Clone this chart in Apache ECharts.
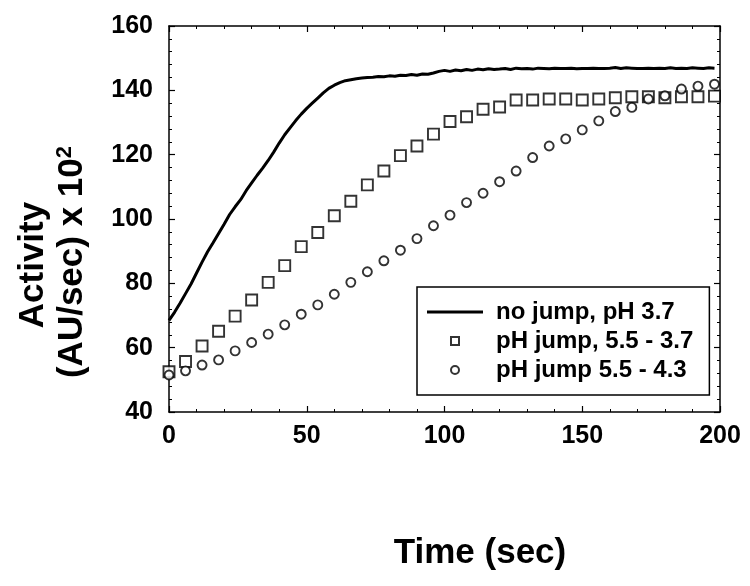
<!DOCTYPE html>
<html>
<head>
<meta charset="utf-8">
<script src="https://cdn.jsdelivr.net/npm/echarts@6/dist/echarts.min.js"></script>
<style>
html,body{margin:0;padding:0;background:#fff;}
#chart{width:750px;height:586px;}
</style>
</head>
<body>
<div id="chart"></div>
<script>
// ---- data ----
var seriesNames = ['no jump, pH 3.7', 'pH jump, 5.5 - 3.7', 'pH jump 5.5 - 4.3'];

var lineTimes = [0,2,4,6,8,10,12,14,16,18,20,22,24,26,28,30,32,34,36,38,40,42,44,46,48,50,52,54,56,58,60,62,64,66,68,70,72,74,76,78,80,82,84,86,88,90,92,94,96,98,100,102,104,106,108,110,112,114,116,118,120,122,124,126,128,130,132,134,136,138,140,142,144,146,148,150,152,154,156,158,160,162,164,166,168,170,172,174,176,178,180,182,184,186,188,190,192,194,196,198];
var lineValues = [68.5,71.0,73.8,76.8,79.8,83.2,86.6,89.8,92.6,95.5,98.4,101.4,103.8,106.0,108.8,111.2,113.6,115.8,118.2,120.8,123.6,126.2,128.4,130.6,132.6,134.4,136.0,137.6,139.2,140.6,141.6,142.4,143.0,143.3,143.6,143.8,144.0,144.1,144.3,144.2,144.5,144.4,144.7,144.6,144.9,144.7,145.1,145.0,145.4,145.9,146.2,145.9,146.3,146.1,146.5,146.2,146.6,146.4,146.7,146.5,146.6,146.8,146.5,146.9,146.7,146.8,146.6,146.9,146.8,146.7,146.9,146.8,146.8,146.9,146.7,146.8,146.8,146.9,146.8,146.8,146.9,147.1,146.8,147.0,146.9,146.8,146.8,146.9,146.8,146.9,146.8,147.0,146.8,146.9,146.8,147.0,146.9,146.8,147.0,146.9];

var markerTimes = [0,6,12,18,24,30,36,42,48,54,60,66,72,78,84,90,96,102,108,114,120,126,132,138,144,150,156,162,168,174,180,186,192,198];
var squareValues = [52.5,55.7,60.5,65.1,69.8,74.8,80.3,85.5,91.4,95.8,101.0,105.5,110.6,114.9,119.7,122.7,126.4,130.3,131.8,134.1,134.8,137.0,137.0,137.3,137.3,137.0,137.3,137.7,138.0,138.0,137.7,138.0,138.0,138.2];
var circleValues = [51.5,52.8,54.6,56.2,59.0,61.6,64.2,67.1,70.4,73.3,76.6,80.3,83.6,87.0,90.3,93.9,97.9,101.2,105.1,108.0,111.6,114.9,119.1,122.7,124.9,127.7,130.5,133.4,134.7,137.3,138.3,140.4,141.3,141.9];

var xTickLabels = ['0','50','100','150','200'];
var yTickLabels = ['40','60','80','100','120','140','160'];

function pairs(xs, ys){ var out=[]; for(var i=0;i<xs.length;i++){ out.push([xs[i], ys[i]]); } return out; }

var FONT = '"Liberation Sans", Arial, Helvetica, sans-serif';
var chart = echarts.init(document.getElementById('chart'), null, {renderer:'canvas'});

function axisBase(pos, showLabels, min, max, interval, labels, margin){
  return {
    type:'value', position:pos, min:min, max:max, interval:interval,
    axisLine:{show:true, onZero:false, lineStyle:{color:'#000', width:1.5}},
    axisTick:{show:true, inside:true, length:6, lineStyle:{color:'#000', width:1.2}},
    minorTick:{show:true, splitNumber:5, length:3, lineStyle:{color:'#000', width:1}},
    splitLine:{show:false},
    axisLabel:{show:showLabels, color:'#000', fontFamily:FONT, fontWeight:'bold', fontSize:25, margin:margin,
      formatter:function(v){ var idx = Math.round((v-min)/interval); return labels[idx] !== undefined ? labels[idx] : ''; }}
  };
}

var option = {
  backgroundColor:'#fff',
  animation:false,
  grid:{left:169, right:30, top:26, bottom:174, containLabel:false},
  xAxis:[ axisBase('bottom', true, 0, 200, 50, xTickLabels, 12), axisBase('top', false, 0, 200, 50, xTickLabels, 12) ],
  yAxis:[ axisBase('left', true, 40, 160, 20, yTickLabels, 16), axisBase('right', false, 40, 160, 20, yTickLabels, 16) ],
  legend:{
    orient:'vertical', left:417, top:287,
    itemWidth:56, itemHeight:8, itemGap:5,
    padding:[13,16,13,10],
    symbolKeepAspect:true,
    borderColor:'#000', borderWidth:1.5, borderRadius:0,
    textStyle:{fontFamily:FONT, fontWeight:'bold', fontSize:24, color:'#000', padding:[0,0,0,8]},
    data:[
      {name:seriesNames[0], icon:'path://M0,0H20V1.1H0Z'},
      {name:seriesNames[1], icon:'path://M0,0H10V10H0Z'},
      {name:seriesNames[2], icon:'circle'}
    ]
  },
  series:[
    {name:seriesNames[0], type:'line', xAxisIndex:0, yAxisIndex:0, data:pairs(lineTimes,lineValues),
     symbol:'none', showSymbol:false, lineStyle:{color:'#000', width:3}, itemStyle:{color:'#000'}, z:3},
    {name:seriesNames[1], type:'scatter', data:pairs(markerTimes,squareValues), symbol:'rect', symbolSize:11,
     itemStyle:{color:'#fff', borderColor:'#000', borderWidth:1.9}, z:4},
    {name:seriesNames[2], type:'scatter', data:pairs(markerTimes,circleValues), symbol:'circle', symbolSize:9,
     itemStyle:{color:'#fff', borderColor:'#000', borderWidth:1.9}, z:4}
  ],
  graphic:[
    {type:'text', x:33, y:265, rotation:Math.PI/2,
     style:{text:'Activity', font:'bold 35px '+FONT, fill:'#000', textAlign:'center', textVerticalAlign:'middle'}},
    {type:'text', x:72, y:262, rotation:Math.PI/2,
     style:{text:'(AU/sec) x 10{sup|2}', font:'bold 35px '+FONT, fill:'#000', textAlign:'center', textVerticalAlign:'middle',
       rich:{sup:{font:'bold 22px '+FONT, fill:'#000', verticalAlign:'top', padding:[0,0,14,0]}}}},
    {type:'text', x:480, y:553,
     style:{text:'Time (sec)', font:'bold 35px '+FONT, fill:'#000', textAlign:'center', textVerticalAlign:'middle'}}
  ]
};
chart.setOption(option);
</script>
</body>
</html>
